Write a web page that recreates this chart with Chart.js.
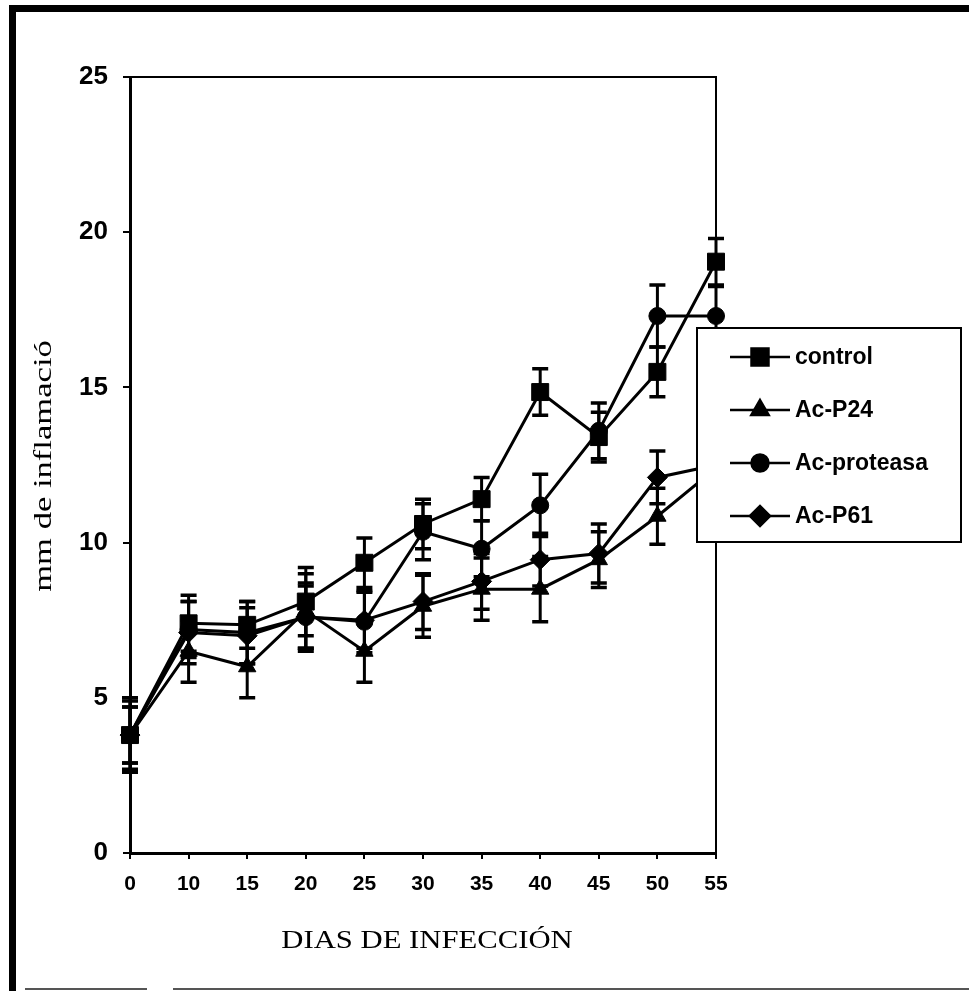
<!DOCTYPE html>
<html>
<head>
<meta charset="utf-8">
<script src="https://cdn.jsdelivr.net/npm/chart.js@4.4.0/dist/chart.umd.min.js"></script>
<style>
  html, body { margin: 0; padding: 0; background: #fff; }
  #wrap { width: 969px; height: 991px; position: relative; }
</style>
</head>
<body>
<div id="wrap"><canvas id="c" width="969" height="991"></canvas></div>
<script>
// Days of infection (category axis)
const days = ['0', '10', '15', '20', '25', '30', '35', '40', '45', '50', '55'];

// Inflammation (mm) per group, with error bar half-widths
const control       = [3.8, 7.4, 7.35, 8.1, 9.35, 10.6, 11.4, 14.85, 13.4, 15.5, 19.05];
const controlErr    = [0.9, 0.9, 0.75, 1.1, 0.8, 0.8, 0.7, 0.75, 0.8, 0.8, 0.75];
const acP24         = [3.8, 6.5, 6.0, 7.8, 6.5, 7.95, 8.5, 8.5, 9.45, 10.85, 12.4];
const acP24Err      = [1.1, 1.0, 1.0, 1.2, 1.0, 1.0, 1.0, 1.05, 0.9, 0.9, 0.9];
const acProteasa    = [3.8, 7.2, 7.1, 7.6, 7.45, 10.35, 9.8, 11.2, 13.6, 17.3, 17.3];
const acProteasaErr = [1.2, 0.9, 1.0, 1.1, 1.0, 0.9, 0.9, 1.0, 0.9, 1.0, 0.95];
const acP61         = [3.8, 7.1, 7.0, 7.6, 7.5, 8.1, 8.75, 9.45, 9.65, 12.1, 12.5];
const acP61Err      = [0.9, 1.0, 0.9, 1.0, 0.9, 0.9, 0.9, 0.85, 0.95, 0.85, 0.9];

const yTicks = [0, 5, 10, 15, 20, 25];

const seriesNames = ['control', 'Ac-P24', 'Ac-proteasa', 'Ac-P61'];
const seriesValues = [control, acP24, acProteasa, acP61];
const seriesErrors = [controlErr, acP24Err, acProteasaErr, acP61Err];
const seriesStyles = [
  { pointStyle: 'rect', radius: 12 },
  { pointStyle: 'triangle', radius: 10 },
  { pointStyle: 'circle', radius: 8.5 },
  { pointStyle: 'rectRot', radius: 10 }
];

const SANS = '"Liberation Sans", Arial, sans-serif';
const SERIF = '"Liberation Serif", "Times New Roman", serif';

// Page frame around the figure
const framePlugin = {
  id: 'frame',
  beforeDraw(chart) {
    const ctx = chart.ctx;
    ctx.save();
    ctx.fillStyle = '#fff';
    ctx.fillRect(0, 0, chart.width, chart.height);
    ctx.fillStyle = '#000';
    ctx.fillRect(9, 5, 960, 7);
    ctx.fillRect(9, 5, 7, 986);
    ctx.fillStyle = '#555';
    ctx.fillRect(25, 988, 122, 2);
    ctx.fillRect(173, 988, 796, 2);
    ctx.restore();
  }
};

// Box on top/right of the plot area, and vertical error bars
const errorBarPlugin = {
  id: 'errorBars',
  beforeDatasetsDraw(chart) {
    const { ctx, chartArea: a, scales: { x, y } } = chart;
    ctx.save();
    ctx.strokeStyle = '#000';
    ctx.lineWidth = 2;
    ctx.beginPath();
    ctx.moveTo(a.left, a.top);
    ctx.lineTo(a.right, a.top);
    ctx.lineTo(a.right, a.bottom);
    ctx.stroke();

    chart.data.datasets.forEach((ds) => {
      ds.data.forEach((v, j) => {
        const e = ds.errors[j];
        const px = x.getPixelForValue(j);
        const top = y.getPixelForValue(v + e);
        const bot = y.getPixelForValue(v - e);
        ctx.lineWidth = 3;
        ctx.beginPath();
        ctx.moveTo(px, top);
        ctx.lineTo(px, bot);
        ctx.stroke();
        ctx.lineWidth = 3.5;
        ctx.beginPath();
        ctx.moveTo(px - 8, top); ctx.lineTo(px + 8, top);
        ctx.moveTo(px - 8, bot); ctx.lineTo(px + 8, bot);
        ctx.stroke();
      });
    });
    ctx.restore();
  }
};

// Axis titles and the boxed legend
const annotatePlugin = {
  id: 'annotate',
  afterDraw(chart) {
    const { ctx, chartArea: a } = chart;
    ctx.save();
    ctx.fillStyle = '#000';
    ctx.textAlign = 'center';
    ctx.textBaseline = 'middle';

    // x-axis title
    ctx.save();
    ctx.font = '26px ' + SERIF;
    ctx.translate((a.left + a.right) / 2 + 4, 941);
    ctx.scale(1.18, 1);
    ctx.fillText('DIAS DE INFECCIÓN', 0, 0);
    ctx.restore();

    // y-axis title
    ctx.save();
    ctx.font = '26px ' + SERIF;
    ctx.translate(44, (a.top + a.bottom) / 2 + 1);
    ctx.rotate(-Math.PI / 2);
    ctx.scale(1.33, 1);
    ctx.fillText('mm de inflamació', 0, 0);
    ctx.restore();

    // legend
    const bx = 697, by = 328, bw = 264, bh = 214;
    ctx.fillStyle = '#fff';
    ctx.fillRect(bx, by, bw, bh);
    ctx.strokeStyle = '#000';
    ctx.lineWidth = 2;
    ctx.strokeRect(bx, by, bw, bh);

    ctx.font = 'bold 23px ' + SANS;
    ctx.textAlign = 'left';
    chart.data.datasets.forEach((ds, i) => {
      const ry = 357 + i * 53;
      ctx.strokeStyle = '#000';
      ctx.lineWidth = 2.5;
      ctx.beginPath();
      ctx.moveTo(730, ry);
      ctx.lineTo(790, ry);
      ctx.stroke();
      ctx.fillStyle = '#000';
      Chart.helpers.drawPoint(ctx, {
        pointStyle: ds.pointStyle,
        radius: ds.pointRadius,
        borderWidth: 1,
        rotation: 0
      }, 760, ry);
      ctx.fill();
      ctx.fillText(ds.label, 795, ry + 1);
    });
    ctx.restore();
  }
};

const datasets = seriesNames.map((name, i) => ({
  label: name,
  data: seriesValues[i],
  errors: seriesErrors[i],
  borderColor: '#000',
  backgroundColor: '#000',
  borderWidth: 3,
  pointStyle: seriesStyles[i].pointStyle,
  pointRadius: seriesStyles[i].radius,
  pointBackgroundColor: '#000',
  pointBorderColor: '#000',
  pointBorderWidth: 1,
  tension: 0,
  fill: false,
  clip: false
}));

new Chart(document.getElementById('c'), {
  type: 'line',
  data: { labels: days, datasets },
  options: {
    responsive: false,
    animation: false,
    devicePixelRatio: 1,
    layout: { padding: { left: 0, top: 77, right: 253, bottom: 0 } },
    plugins: { legend: { display: false }, tooltip: { enabled: false } },
    scales: {
      x: {
        type: 'category',
        offset: false,
        grid: { drawOnChartArea: false, drawTicks: true, tickLength: 6, color: '#000', lineWidth: 2 },
        border: { display: true, color: '#000', width: 3 },
        ticks: {
          color: '#000',
          font: { family: SANS, size: 21, weight: 'bold' },
          padding: 13,
          maxRotation: 0,
          autoSkip: false
        },
        afterFit(scale) { scale.height = 138; }
      },
      y: {
        min: 0,
        max: 25,
        afterBuildTicks(scale) { scale.ticks = yTicks.map(v => ({ value: v })); },
        grid: { drawOnChartArea: false, drawTicks: true, tickLength: 7, color: '#000', lineWidth: 2 },
        border: { display: true, color: '#000', width: 3 },
        ticks: {
          color: '#000',
          font: { family: SANS, size: 26, weight: 'bold' },
          padding: 15
        },
        afterFit(scale) { scale.width = 130; }
      }
    }
  },
  plugins: [framePlugin, errorBarPlugin, annotatePlugin]
});
</script>
</body>
</html>
